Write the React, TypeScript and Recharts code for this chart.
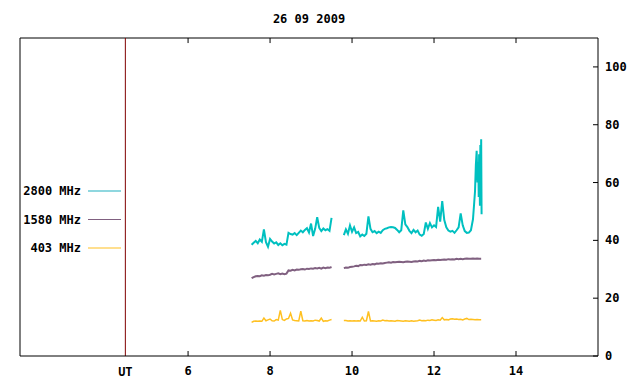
import { LineChart, Line, XAxis, YAxis, ReferenceLine } from "recharts";

// hours (UT) for the first and second recording blocks
const hoursA = [
  7.55, 7.6, 7.65, 7.7, 7.75, 7.8, 7.85, 7.9, 7.95, 8.0,
  8.05, 8.1, 8.15, 8.2, 8.25, 8.3, 8.35, 8.4, 8.45, 8.5,
  8.55, 8.6, 8.65, 8.7, 8.75, 8.8, 8.85, 8.9, 8.95, 9.0,
  9.05, 9.1, 9.15, 9.2, 9.25, 9.3, 9.35, 9.4, 9.45, 9.5,
];
const hoursB = [
  9.8, 9.85, 9.9, 9.95, 10.0, 10.05, 10.1, 10.15, 10.2, 10.25,
  10.3, 10.35, 10.4, 10.45, 10.5, 10.55, 10.6, 10.65, 10.7, 10.75,
  10.8, 10.85, 10.9, 10.95, 11.0, 11.05, 11.1, 11.15, 11.2, 11.25,
  11.3, 11.35, 11.4, 11.45, 11.5, 11.55, 11.6, 11.65, 11.7, 11.75,
  11.8, 11.85, 11.9, 11.95, 12.0, 12.05, 12.1, 12.15, 12.2, 12.25,
  12.3, 12.35, 12.4, 12.45, 12.5, 12.55, 12.6, 12.65, 12.7, 12.75,
  12.8, 12.85, 12.9, 12.95, 13.0, 13.05, 13.1, 13.15,
];
// finer sampling of the 2800 MHz burst at the end
const burstHours = [12.98, 13.0, 13.02, 13.04, 13.06, 13.08, 13.09, 13.1, 13.12, 13.13, 13.14, 13.15, 13.16];
const gapHour = 9.65;

const mhz2800A = [
  38.5, 39.2, 39.8, 39.0, 40.3, 39.5, 43.8, 39.4, 37.8, 40.5,
  39.6, 38.9, 39.3, 38.4, 39.0, 38.3, 38.8, 38.5, 42.6, 42.2,
  42.0, 42.5, 41.8, 42.6, 43.4, 42.8, 43.6, 44.2, 42.7, 45.8,
  41.5, 44.0, 48.0, 44.3, 43.2, 44.1, 43.5, 43.9, 43.3, 47.8,
];
const mhz2800B = [
  41.8, 43.8, 42.3, 45.2, 43.0, 44.5, 42.5, 42.9, 41.4, 42.0,
  41.5, 42.3, 48.3, 44.0, 42.8, 43.2, 42.5, 43.0, 42.6, 43.5,
  44.0, 44.2, 44.5, 44.6, 44.5, 44.3, 43.6, 42.8, 43.5, 50.4,
  45.5, 44.6, 43.3, 42.5, 43.6, 42.8, 43.4, 42.0, 41.6, 42.2,
  46.2, 44.0, 46.0, 44.5, 45.2, 44.6, 51.6, 46.5, 53.6, 47.0,
  44.5, 43.4, 43.0, 43.3, 42.6, 43.5, 44.5, 49.3, 45.2, 43.2,
  42.6, 42.7, 43.5, 47.3,
];
const mhz2800Burst = [53, 57, 66, 71, 60, 67, 55, 69.8, 52, 73, 58, 75, 49];

const mhz1580A = [
  26.9, 27.3, 27.6, 27.7, 27.6, 27.9, 27.8, 28.0, 27.9, 28.1,
  28.4, 28.2, 28.4, 28.6, 28.3, 28.5, 28.3, 28.5, 29.6, 29.5,
  29.8, 29.6, 29.9, 29.8, 30.0, 30.1, 29.9, 30.2, 30.1, 30.3,
  30.2, 30.4, 30.3, 30.5, 30.2, 30.6, 30.4, 30.6, 30.5, 30.8,
];
const mhz1580B = [
  30.4, 30.6, 30.5, 30.8, 30.9, 31.0, 31.2, 31.1, 31.5, 31.4,
  31.6, 31.5, 31.7, 31.6, 31.8, 31.7, 32.0, 31.9, 32.1, 32.0,
  32.2, 32.3, 32.4, 32.3, 32.5, 32.4, 32.5, 32.6, 32.5, 32.4,
  32.6, 32.7, 32.6, 32.5, 32.7, 32.8, 32.7, 32.9, 32.8, 33.0,
  32.9, 33.1, 33.0, 33.1, 33.2, 33.1, 33.3, 33.2, 33.3, 33.4,
  33.3, 33.5, 33.4, 33.5, 33.4, 33.6, 33.5, 33.6, 33.5, 33.6,
  33.7, 33.6, 33.6, 33.7, 33.6, 33.7, 33.6, 33.6,
];

const mhz403A = [
  11.6, 12.0, 12.1, 12.0, 12.1, 12.0, 13.1, 12.2, 12.5, 12.8,
  12.2, 12.1, 12.6, 12.4, 15.8, 12.6, 12.3, 12.8, 13.0, 14.8,
  12.5, 12.3, 12.2, 12.1, 15.5, 12.2, 12.1, 12.3, 12.1, 12.2,
  12.1, 12.4, 12.3, 12.1, 13.1, 12.0, 12.2, 12.1, 12.4, 12.6,
];
const mhz403B = [
  12.3, 12.3, 12.1, 12.2, 12.1, 12.2, 12.1, 12.2, 12.1, 13.4,
  12.1, 12.2, 15.4, 12.1, 12.2, 12.1, 12.0, 12.2, 12.1, 12.4,
  12.2, 12.3, 12.1, 12.2, 12.1, 12.0, 12.3, 12.2, 12.1, 12.0,
  12.2, 12.1, 12.0, 12.2, 12.0, 12.1, 12.2, 12.4, 12.2, 12.3,
  12.2, 12.4, 12.3, 12.5, 12.4, 12.3, 12.5, 12.4, 13.3, 12.5,
  12.6, 12.5, 12.8, 12.9, 12.7, 12.8, 12.6, 12.7, 12.5, 12.8,
  13.0, 12.6, 12.7, 12.6, 12.5, 12.6, 12.5, 12.5,
];

const utHour = 4.47;
const xTicks = [6, 8, 10, 12, 14];
const yTicks = [0, 20, 40, 60, 80, 100];
const xMin = 1.9;
const xMax = 16;
const yMax = 110;
const legendNames = ["2800 MHz", "1580 MHz", "403 MHz"];
const legendColors = ["#20b0c0", "#806080", "#ffc020"];
const seriesColors = ["#00c0c0", "#806080", "#ffc020"];

const FONT = "'DejaVu Sans Mono', monospace";
const TEXT = { fontFamily: FONT, fontWeight: "bold", fontSize: 12, fill: "#000" } as const;

type Pt = { h: number; v: number | null };

function build(hA: number[], vA: number[], hB: number[], vB: number[]): Pt[] {
  const out: Pt[] = hA.map((h, i) => ({ h, v: vA[i] }));
  out.push({ h: gapHour, v: null });
  hB.forEach((h, i) => out.push({ h, v: vB[i] }));
  return out;
}

const s2800 = build(hoursA, mhz2800A, [...hoursB.slice(0, 64), ...burstHours], [...mhz2800B, ...mhz2800Burst]);
const s1580 = build(hoursA, mhz1580A, hoursB, mhz1580B);
const s403 = build(hoursA, mhz403A, hoursB, mhz403B);

// tickSize is negative so the tick marks point into the plot; labels are shifted back out
const BottomTick = (props: any) => {
  const { x, y, payload } = props;
  return (
    <text x={x} y={y + 24} textAnchor="middle" {...TEXT}>
      {payload.value}
    </text>
  );
};

const RightTick = (props: any) => {
  const { x, y, payload } = props;
  return (
    <text x={x + 12} y={y + 4} textAnchor="start" {...TEXT}>
      {payload.value}
    </text>
  );
};

export default function App() {
  return (
    <div style={{ position: "absolute", left: 0, top: 0, width: 640, height: 384, background: "#fff" }}>
      <LineChart width={640} height={384} margin={{ top: 38, right: 0, bottom: 0, left: 20 }}>
        <XAxis
          dataKey="h"
          type="number"
          domain={[xMin, xMax]}
          ticks={xTicks}
          allowDuplicatedCategory={false}
          height={28}
          tickSize={-5}
          tickMargin={0}
          tick={BottomTick}
          tickLine={{ stroke: "#000" }}
          axisLine={{ stroke: "#000" }}
          interval={0}
        />
        <YAxis
          orientation="right"
          type="number"
          domain={[0, yMax]}
          ticks={yTicks}
          width={42}
          tickSize={-5}
          tickMargin={0}
          tick={RightTick}
          tickLine={{ stroke: "#000" }}
          axisLine={{ stroke: "#000" }}
          interval={0}
        />
        {/* left and top frame, with mirrored tick marks on the top edge */}
        <ReferenceLine x={xMin} stroke="#000" />
        <ReferenceLine y={yMax} stroke="#000" />
        {xTicks.map((t) => (
          <ReferenceLine
            key={t}
            segment={[{ x: t, y: yMax }, { x: t, y: yMax - 1.75 }]}
            stroke="#000"
          />
        ))}
        <ReferenceLine
          x={utHour}
          stroke="#800000"
          label={{ value: "UT", position: "bottom", offset: 11, ...TEXT }}
        />
        <Line data={s2800} dataKey="v" name={legendNames[0]} stroke={seriesColors[0]} strokeWidth={2} dot={false} isAnimationActive={false} />
        <Line data={s1580} dataKey="v" name={legendNames[1]} stroke={seriesColors[1]} strokeWidth={2} dot={false} isAnimationActive={false} />
        <Line data={s403} dataKey="v" name={legendNames[2]} stroke={seriesColors[2]} strokeWidth={1.5} dot={false} isAnimationActive={false} />
        <text x={309} y={23} textAnchor="middle" {...TEXT}>
          26 09 2009
        </text>
        {legendNames.map((n, i) => (
          <g key={n}>
            <text x={81} y={195 + i * 28.5} textAnchor="end" {...TEXT}>
              {n}
            </text>
            <line x1={88} x2={121} y1={191 + i * 28.5} y2={191 + i * 28.5} stroke={legendColors[i]} strokeWidth={1.2} />
          </g>
        ))}
      </LineChart>
    </div>
  );
}
